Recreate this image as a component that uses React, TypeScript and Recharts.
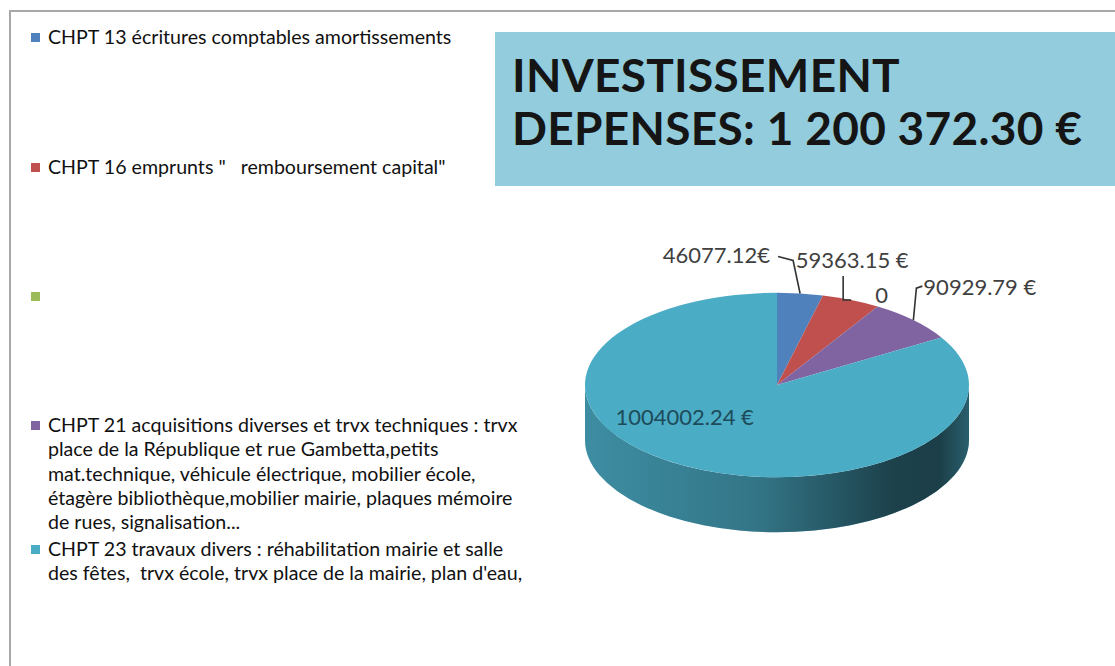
import React from 'react';
import { PieChart, Pie, Cell, Legend } from 'recharts';

// ---------------- data ----------------
const categories: string[] = [
  'CHPT 13 écritures comptables amortissements',
  'CHPT 16 emprunts "   remboursement capital"',
  '',
  'CHPT 21 acquisitions diverses et trvx techniques : trvx\nplace de la République et rue Gambetta,petits\nmat.technique, véhicule électrique, mobilier école,\nétagère bibliothèque,mobilier mairie, plaques mémoire\nde rues, signalisation...',
  "CHPT 23 travaux divers : réhabilitation mairie et salle\ndes fêtes,  trvx école, trvx place de la mairie, plan d'eau,",
];
const values: number[] = [46077.12, 59363.15, 0, 90929.79, 1004002.24];
const valueLabels: string[] = ['46077.12€', '59363.15 €', '0', '90929.79 €', '1004002.24 €'];
const colors: string[] = ['#4F81BD', '#C0504D', '#9BBB59', '#8064A2', '#4BACC6'];
const titleLines: string[] = ['INVESTISSEMENT', 'DEPENSES: 1 200 372.30 €'];

const chartData = categories.map((name, i) => ({ name, value: values[i], label: valueLabels[i] }));

// ---------------- styling / geometry ----------------
const W = 1115;
const H = 666;
const RAD = Math.PI / 180;
const TILT = 0.48;
const DEPTH = 55;
const FONT = 'Lato, "Open Sans", sans-serif';

const LEGEND_TOPS = [25, 155, 284, 413, 537];

type LabelLayout = { line: number[][] | null; tx: number; ty: number; anchor: 'start' | 'middle' | 'end'; color: string };
const LABEL_LAYOUT: LabelLayout[] = [
  { line: [[0, 0], [-7, -33], [-22, -37]], tx: -30, ty: -39, anchor: 'end', color: '#404040' },
  { line: [[0, 0], [-8, 0], [-8, -24]], tx: 1, ty: -40, anchor: 'middle', color: '#404040' },
  { line: null, tx: 4, ty: -12, anchor: 'middle', color: '#404040' },
  { line: [[0, 0], [3, -32], [9, -34]], tx: 10, ty: -34, anchor: 'start', color: '#404040' },
  { line: null, tx: 2, ty: -49, anchor: 'middle', color: '#1d4b5a' },
];

function pt(cx: number, cy: number, rx: number, ry: number, a: number): [number, number] {
  return [cx + rx * Math.cos(-a * RAD), cy + ry * Math.sin(-a * RAD)];
}

function Sector3D(props: any) {
  const { cx, cy, outerRadius, startAngle, endAngle, fill, index } = props;
  const rx = outerRadius;
  const ry = outerRadius * TILT;
  const span = Math.abs(endAngle - startAngle);
  if (!(span > 1e-6)) return <g />;
  const [x1, y1] = pt(cx, cy, rx, ry, startAngle);
  const [x2, y2] = pt(cx, cy, rx, ry, endAngle);
  const sweep = startAngle > endAngle ? 1 : 0;
  const large = span > 180 ? 1 : 0;
  const top =
    span >= 359.99
      ? `M${cx - rx},${cy} A${rx},${ry} 0 1 0 ${cx + rx},${cy} A${rx},${ry} 0 1 0 ${cx - rx},${cy} Z`
      : `M${cx},${cy} L${x1},${y1} A${rx},${ry} 0 ${large} ${sweep} ${x2},${y2} Z`;

  const lo = Math.min(startAngle, endAngle);
  const hi = Math.max(startAngle, endAngle);
  const walls: string[] = [];
  for (let k = -2; k <= 1; k++) {
    const a = Math.max(lo, -180 + 360 * k);
    const b = Math.min(hi, 360 * k);
    if (b - a > 0.01) {
      const [ax, ay] = pt(cx, cy, rx, ry, a);
      const [bx, by] = pt(cx, cy, rx, ry, b);
      const lg = b - a > 180 ? 1 : 0;
      walls.push(
        `M${ax},${ay} A${rx},${ry} 0 ${lg} 0 ${bx},${by} L${bx},${by + DEPTH} A${rx},${ry} 0 ${lg} 1 ${ax},${ay + DEPTH} Z`
      );
    }
  }
  const gid = `wallshade-${index}`;
  return (
    <g>
      <defs>
        <linearGradient id={gid} gradientUnits="userSpaceOnUse" x1={cx - rx} y1={0} x2={cx + rx} y2={0}>
          <stop offset="0%" stopColor="#000" stopOpacity={0.18} />
          <stop offset="45%" stopColor="#000" stopOpacity={0.32} />
          <stop offset="80%" stopColor="#000" stopOpacity={0.62} />
          <stop offset="92%" stopColor="#000" stopOpacity={0.64} />
          <stop offset="100%" stopColor="#000" stopOpacity={0.45} />
        </linearGradient>
      </defs>
      {walls.map((d, i) => (
        <g key={i}>
          <path d={d} fill={fill} stroke="none" />
          <path d={d} fill={`url(#${gid})`} stroke="none" />
        </g>
      ))}
      <path d={top} fill={fill} stroke="none" />
    </g>
  );
}

function renderLabel(props: any) {
  const { cx, cy, midAngle, outerRadius, index } = props;
  const rx = outerRadius;
  const ry = outerRadius * TILT;
  const [ax, ay] = pt(cx, cy, rx, ry, midAngle);
  const s = LABEL_LAYOUT[index];
  const text = chartData[index].label;
  return (
    <g key={`lbl-${index}`}>
      {s.line && (
        <polyline
          points={s.line.map(([dx, dy]) => `${ax + dx},${ay + dy}`).join(' ')}
          fill="none"
          stroke="#333"
          strokeWidth={1.6}
        />
      )}
      <text
        x={ax + s.tx}
        y={ay + s.ty}
        textAnchor={s.anchor}
        dominantBaseline="central"
        fill={s.color}
        fontFamily={FONT}
        fontSize={22}
      >
        {text}
      </text>
    </g>
  );
}

function renderLegend(props: any) {
  const payload = [...(props.payload || [])].sort(
    (a: any, b: any) => categories.indexOf(a.value) - categories.indexOf(b.value)
  );
  return (
    <div style={{ position: 'relative', width: 560, height: 640, fontFamily: FONT }}>
      {payload.map((p: any, i: number) => (
        <div
          key={i}
          style={{ position: 'absolute', left: 31, top: LEGEND_TOPS[i], display: 'flex', alignItems: 'flex-start' }}
        >
          <span
            style={{
              display: 'inline-block',
              width: 9,
              height: 9,
              marginTop: 8,
              marginRight: 8,
              background: p.color,
              flex: '0 0 auto',
            }}
          />
          <span
            style={{
              whiteSpace: 'pre-wrap',
              fontSize: 19.6,
              lineHeight: '24.3px',
              color: '#111',
              textAlign: 'left',
            }}
          >
            {p.value}
          </span>
        </div>
      ))}
    </div>
  );
}

export default function App() {
  const sectorShape = (p: any) => <Sector3D {...p} />;
  return (
    <div style={{ position: 'absolute', left: 0, top: 0, width: W, height: H, overflow: 'hidden', background: '#fff' }}>
      <div
        style={{
          position: 'absolute',
          left: 9,
          top: 10,
          width: W + 20,
          height: H + 20,
          border: '2px solid #a8a8a8',
          boxSizing: 'border-box',
        }}
      />
      <div
        style={{
          position: 'absolute',
          left: 495,
          top: 32,
          width: 640,
          height: 154,
          background: '#93CDDD',
        }}
      />
      <div
        style={{
          position: 'absolute',
          left: 512,
          top: 48,
          fontFamily: FONT,
          fontWeight: 700,
          fontSize: 46,
          letterSpacing: 0.3,
          lineHeight: '53px',
          color: '#151515',
          whiteSpace: 'nowrap',
        }}
      >
        {titleLines.map((t, i) => (
          <div key={i}>{t}</div>
        ))}
      </div>
      <div style={{ position: 'absolute', left: 0, top: 0 }}>
        <PieChart width={W} height={H} margin={{ top: 0, right: 0, bottom: 0, left: 0 }}>
          <Legend
            layout="horizontal"
            verticalAlign="middle"
            align="center"
            content={renderLegend}
            wrapperStyle={{ left: 0, top: 0, width: 560, height: 640 }}
          />
          <Pie
            data={chartData}
            dataKey="value"
            nameKey="name"
            cx={777}
            cy={385}
            outerRadius={192}
            startAngle={90}
            endAngle={-270}
            stroke="none"
            isAnimationActive={false}
            shape={sectorShape}
            activeShape={sectorShape}
            inactiveShape={sectorShape}
            label={renderLabel}
            labelLine={false}
          >
            {chartData.map((d, i) => (
              <Cell key={i} fill={colors[i]} />
            ))}
          </Pie>
        </PieChart>
      </div>
    </div>
  );
}
